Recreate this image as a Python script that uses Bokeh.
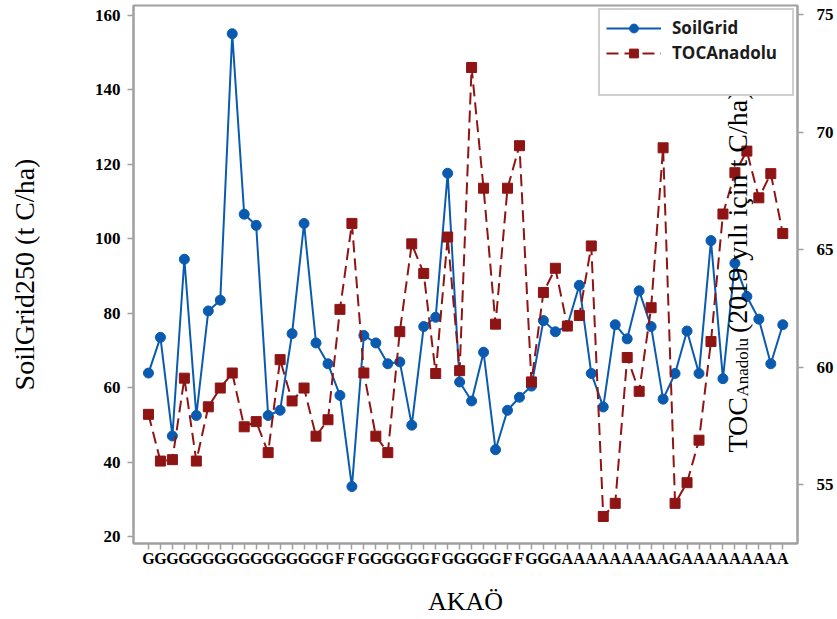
import math
from bokeh.plotting import figure
from bokeh.models import Range1d, LinearAxis, FixedTicker, Legend, LegendItem, Label
from bokeh.embed import file_html
from bokeh.resources import INLINE

# ---- data ----
categories = (["G"] * 16 + ["F"] * 2 + ["G"] * 6 + ["F"] + ["G"] * 5 + ["F"] * 2
              + ["G"] * 3 + ["A"] * 9 + ["G"] + ["A"] * 9)
positions = list(range(1, len(categories) + 1))

soilgrid = [63.9, 73.5, 47.0, 94.5, 52.5, 80.6, 83.5, 155.1, 106.6, 103.6,
            52.5, 53.9, 74.5, 104.1, 72.0, 66.4, 57.9, 33.4, 74.0, 72.0,
            66.4, 66.9, 49.9, 76.4, 78.9, 117.6, 61.5, 56.4, 69.5, 43.3,
            53.9, 57.4, 60.4, 78.0, 75.0, 76.6, 87.5, 63.8, 54.8, 76.9,
            73.1, 86.0, 76.4, 56.9, 63.8, 75.2, 63.8, 99.5, 62.4, 93.4,
            84.5, 78.4, 66.4, 76.9]

toc_anadolu = [57.99, 56.0, 56.06, 59.53, 56.0, 58.31, 59.11, 59.75, 57.46, 57.68,
               56.36, 60.32, 58.56, 59.11, 57.06, 57.76, 62.46, 66.12, 59.75, 57.06,
               56.36, 61.51, 65.25, 63.99, 59.73, 65.54, 59.85, 72.76, 67.62, 61.83,
               67.62, 69.43, 59.37, 63.18, 64.21, 61.75, 62.20, 65.16, 53.64, 54.20,
               60.41, 58.97, 62.53, 69.34, 54.20, 55.08, 56.89, 61.09, 66.52, 68.28,
               69.20, 67.21, 68.24, 65.69]

left_ticks = [20, 40, 60, 80, 100, 120, 140, 160]
right_ticks = [55, 60, 65, 70, 75]

BLUE = "#0a5bb0"
RED = "#8f1414"
GRAY = "#a0a0a0"
SERIF = "Liberation Serif"

p = figure(frame_width=664, frame_height=538, output_backend="svg", toolbar_location=None,
           x_range=Range1d(-0.25, 55.23), y_range=Range1d(18.1, 162.69),
           min_border_left=133, min_border_right=40, min_border_top=5,
           min_border_bottom=76)
p.extra_y_ranges = {"right": Range1d(52.49, 75.40)}
p.xgrid.visible = False
p.ygrid.visible = False
p.outline_line_color = GRAY
p.outline_line_width = 2
p.background_fill_color = "white"
p.border_fill_color = "white"

# axes
xa = p.xaxis[0]
xa.ticker = FixedTicker(ticks=positions)
xa.major_label_overrides = {i: c for i, c in zip(positions, categories)}
xa.axis_label = "AKAÖ"
ya = p.yaxis[0]
ya.ticker = FixedTicker(ticks=left_ticks)
ya.axis_label = "SoilGrid250 (t C/ha)"

ra = LinearAxis(y_range_name="right", ticker=FixedTicker(ticks=right_ticks))
p.add_layout(ra, "right")

for ax in (xa, ya, ra):
    ax.axis_line_color = GRAY
    ax.axis_line_width = 2
    ax.major_tick_line_color = GRAY
    ax.major_tick_line_width = 1.5
    ax.major_tick_in = 0
    ax.major_tick_out = 6
    ax.minor_tick_line_color = None
    ax.major_label_text_font = SERIF
    ax.major_label_text_font_style = "bold"
    ax.major_label_text_color = "black"
    ax.axis_label_text_font = SERIF
    ax.axis_label_text_font_style = "normal"
    ax.axis_label_text_color = "black"

xa.major_label_text_font_size = "16px"
xa.major_label_standoff = 0
xa.axis_label_text_font_size = "26px"
xa.axis_label_standoff = 17
ya.major_label_text_font_size = "17px"
ya.major_label_standoff = 7
ya.axis_label_text_font_size = "28px"
ya.axis_label_standoff = 52
ra.major_label_text_font_size = "17px"
ra.major_label_standoff = 13

# series
bl = p.line(positions, soilgrid, line_color=BLUE, line_width=2)
bs = p.scatter(positions, soilgrid, marker="circle", size=10, fill_color=BLUE,
               line_color=BLUE)
rl = p.line(positions, toc_anadolu, line_color=RED, line_width=2,
            line_dash="12 6", y_range_name="right")
rs = p.scatter(positions, toc_anadolu, marker="square", size=10, fill_color=RED,
               line_color=RED, y_range_name="right")
blank = p.scatter(x=[], y=[], marker="square", alpha=0)

legend = Legend(items=[LegendItem(label="SoilGrid", renderers=[bl, bs]),
                       LegendItem(label="TOCAnadolu", renderers=[rl, rs]),
                       LegendItem(label=" ", renderers=[blank])],
                location="top_right")
legend.margin = 3
legend.padding = 6
legend.spacing = 2
legend.glyph_width = 55
legend.glyph_height = 22
legend.label_height = 22
legend.label_width = 114
legend.label_standoff = 11
legend.label_text_font = "Open Sans"
legend.label_text_font_style = "bold"
legend.label_text_font_size = "17px"
legend.label_text_color = "#1b1b1b"
legend.border_line_color = GRAY
legend.border_line_width = 2
legend.background_fill_color = "white"
legend.background_fill_alpha = 1
p.add_layout(legend, "center")

# right axis title drawn inside the plot area (as in the reference)
ang = math.pi / 2
p.add_layout(Label(x=50.2, y=56.36, y_range_name="right", text="TOC", angle=ang,
                   text_font=SERIF, text_font_size="28px", text_color="black",
                   text_align="left", text_baseline="alphabetic"))
p.add_layout(Label(x=50.62, y=58.75, y_range_name="right", text="Anadolu", angle=ang,
                   text_font=SERIF, text_font_size="17px", text_color="black",
                   text_align="left", text_baseline="alphabetic"))
p.add_layout(Label(x=50.2, y=61.45, y_range_name="right",
                   text="(2019 yılı için t C/ha)", angle=ang,
                   text_font=SERIF, text_font_size="28px", text_color="black",
                   text_align="left", text_baseline="alphabetic"))

open("out.html", "w").write(file_html(p, INLINE))
